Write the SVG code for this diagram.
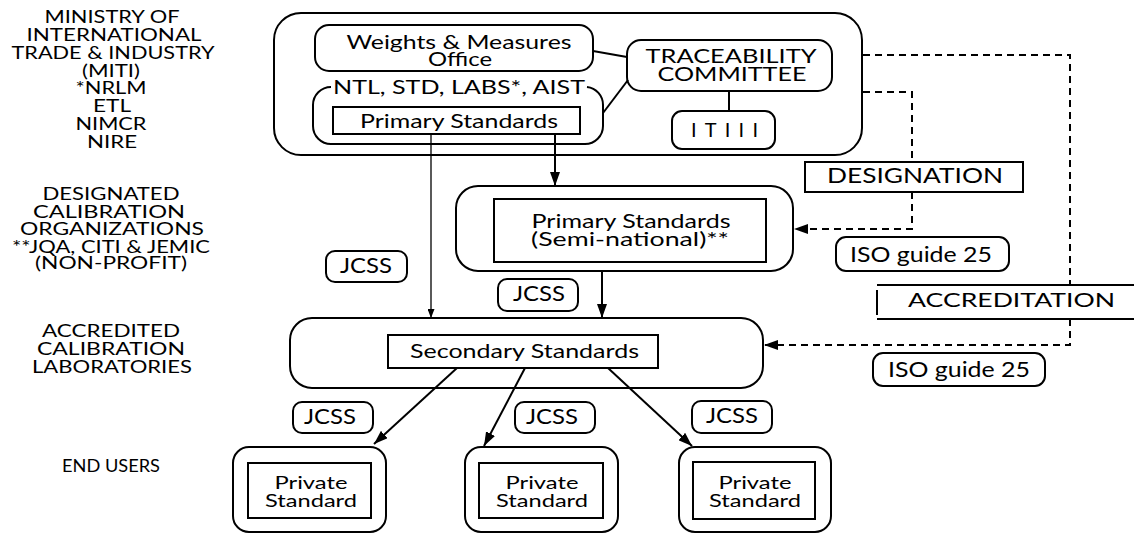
<svg xmlns="http://www.w3.org/2000/svg" width="1137" height="535" viewBox="0 0 1137 535">
<style>
.t{font-family:Lato,"Open Sans","DejaVu Sans",sans-serif;fill:#000;text-anchor:middle}
.lab{font-size:17.5px}
.b{fill:none;stroke:#000;stroke-width:2}
.w{fill:#fff;stroke:#000;stroke-width:2}
.ln{fill:none;stroke:#000;stroke-width:2}
.thin{fill:none;stroke:#000;stroke-width:1.3}
.dash{fill:none;stroke:#000;stroke-width:2;stroke-dasharray:7 5}
</style>
<defs>
<marker id="ah" markerUnits="userSpaceOnUse" markerWidth="14" markerHeight="10" refX="14" refY="5" orient="auto"><path d="M0,0 L14,5 L0,10 z" fill="#000"/></marker>
<marker id="ahs" markerUnits="userSpaceOnUse" markerWidth="9" markerHeight="7" refX="9" refY="3.5" orient="auto"><path d="M0,0 L9,3.5 L0,7 z" fill="#000"/></marker>
</defs>
<rect width="1137" height="535" fill="#fff"/>

<g id="row-labels" class="t lab" lengthAdjust="spacingAndGlyphs">
<text x="112" y="23" textLength="135" lengthAdjust="spacingAndGlyphs">MINISTRY OF</text>
<text x="114" y="41" textLength="175" lengthAdjust="spacingAndGlyphs">INTERNATIONAL</text>
<text x="113" y="59" textLength="203" lengthAdjust="spacingAndGlyphs">TRADE &amp; INDUSTRY</text>
<text x="111" y="76.5" textLength="58" lengthAdjust="spacingAndGlyphs">(MITI)</text>
<text x="111" y="94" textLength="71" lengthAdjust="spacingAndGlyphs">*NRLM</text>
<text x="112" y="112" textLength="38" lengthAdjust="spacingAndGlyphs">ETL</text>
<text x="111" y="130" textLength="71" lengthAdjust="spacingAndGlyphs">NIMCR</text>
<text x="112" y="147.5" textLength="50" lengthAdjust="spacingAndGlyphs">NIRE</text>
<text x="111" y="200" textLength="137" lengthAdjust="spacingAndGlyphs">DESIGNATED</text>
<text x="109" y="217.5" textLength="152" lengthAdjust="spacingAndGlyphs">CALIBRATION</text>
<text x="112" y="235" textLength="184" lengthAdjust="spacingAndGlyphs">ORGANIZATIONS</text>
<text x="111" y="252.5" textLength="198" lengthAdjust="spacingAndGlyphs">**JQA, CITI &amp; JEMIC</text>
<text x="111" y="269" textLength="152" lengthAdjust="spacingAndGlyphs">(NON-PROFIT)</text>
<text x="111" y="337" textLength="138" lengthAdjust="spacingAndGlyphs">ACCREDITED</text>
<text x="111" y="355" textLength="148" lengthAdjust="spacingAndGlyphs">CALIBRATION</text>
<text x="112" y="373" textLength="160" lengthAdjust="spacingAndGlyphs">LABORATORIES</text>
<text x="111" y="472" textLength="98" lengthAdjust="spacingAndGlyphs">END USERS</text>
</g>

<g id="miti">
<rect class="b" x="274" y="13" width="588" height="142" rx="27"/>
</g>

<g id="weights-measures">
<rect class="b" x="315" y="25" width="278" height="46" rx="14"/>
<text class="t" x="459" y="49" font-size="20" textLength="225" lengthAdjust="spacingAndGlyphs">Weights &amp; Measures</text>
<text class="t" x="460" y="65.5" font-size="20" textLength="64" lengthAdjust="spacingAndGlyphs">Office</text>
</g>

<g id="ntl-labs">
<path class="b" d="M331 87 A18 18 0 0 0 313 105 V126 A18 18 0 0 0 331 144 H585 A18 18 0 0 0 603 126 V105 A18 18 0 0 0 587 87"/>
<text class="t" x="459" y="94" font-size="19" textLength="252" lengthAdjust="spacingAndGlyphs">NTL, STD, LABS*, AIST</text>
</g>

<g id="primary-standards">
<rect class="b" x="333" y="107" width="247" height="27"/>
<text class="t" x="459" y="128" font-size="19" textLength="198" lengthAdjust="spacingAndGlyphs">Primary Standards</text>
</g>

<g id="traceability-committee">
<rect class="b" x="627" y="40" width="205" height="51" rx="14"/>
<text class="t" x="731" y="63" font-size="20" textLength="171" lengthAdjust="spacingAndGlyphs">TRACEABILITY</text>
<text class="t" x="732" y="81" font-size="20" textLength="149" lengthAdjust="spacingAndGlyphs">COMMITTEE</text>
</g>

<g id="it111">
<rect class="b" x="672" y="111" width="103" height="38" rx="10"/>
<text class="t" x="724.5" y="137" font-size="20" textLength="67" lengthAdjust="spacing">ITIII</text>
</g>

<g id="designation">
<rect class="w" x="805" y="162" width="218" height="30"/>
<text class="t" x="915" y="183" font-size="21" textLength="176" lengthAdjust="spacingAndGlyphs">DESIGNATION</text>
</g>

<g id="iso-guide-1">
<rect class="b" x="836" y="237" width="173" height="34" rx="10"/>
<text class="t" x="921" y="262" font-size="21" textLength="142" lengthAdjust="spacingAndGlyphs">ISO guide 25</text>
</g>

<g id="accreditation">
<rect x="877" y="285" width="260" height="34" fill="#fff"/>
<path class="ln" d="M1134 285 H877 M877 290 V315 M877 319 H1134"/>
<text class="t" x="1011.5" y="307" font-size="19.5" textLength="207" lengthAdjust="spacingAndGlyphs">ACCREDITATION</text>
</g>

<g id="iso-guide-2">
<rect class="b" x="873" y="353" width="172" height="33" rx="10"/>
<text class="t" x="959" y="377" font-size="21" textLength="142" lengthAdjust="spacingAndGlyphs">ISO guide 25</text>
</g>

<g id="semi-national">
<rect class="b" x="456" y="186" width="337" height="85" rx="22"/>
<rect class="b" x="494" y="199" width="272" height="63"/>
<text class="t" x="631" y="228" font-size="19" textLength="199" lengthAdjust="spacingAndGlyphs">Primary Standards</text>
<text class="t" x="630" y="246" font-size="19" textLength="198" lengthAdjust="spacingAndGlyphs">(Semi-national)**</text>
</g>

<g id="jcss-left">
<rect class="b" x="326" y="251" width="81" height="31" rx="9"/>
<text class="t" x="366" y="273" font-size="21" textLength="52" lengthAdjust="spacingAndGlyphs">JCSS</text>
</g>

<g id="jcss-mid">
<rect class="b" x="498" y="279" width="80" height="32" rx="9"/>
<text class="t" x="539" y="301" font-size="21" textLength="52" lengthAdjust="spacingAndGlyphs">JCSS</text>
</g>

<g id="secondary-standards">
<rect class="b" x="290" y="318" width="473" height="70" rx="22"/>
<rect class="b" x="388" y="335" width="270" height="33"/>
<text class="t" x="524.5" y="358" font-size="19" textLength="229" lengthAdjust="spacingAndGlyphs">Secondary Standards</text>
</g>

<g id="jcss-b1">
<rect class="b" x="293" y="402" width="80" height="31" rx="9"/>
<text class="t" x="330" y="424" font-size="21" textLength="52" lengthAdjust="spacingAndGlyphs">JCSS</text>
</g>
<g id="jcss-b2">
<rect class="b" x="515" y="402" width="80" height="31" rx="9"/>
<text class="t" x="552" y="424" font-size="21" textLength="52" lengthAdjust="spacingAndGlyphs">JCSS</text>
</g>
<g id="jcss-b3">
<rect class="b" x="692" y="401" width="80" height="32" rx="9"/>
<text class="t" x="732" y="423" font-size="21" textLength="52" lengthAdjust="spacingAndGlyphs">JCSS</text>
</g>

<g id="private-1">
<rect class="b" x="233" y="447" width="153" height="85" rx="16"/>
<rect class="b" x="248" y="463" width="123" height="55"/>
<text class="t" x="311" y="489" font-size="18" textLength="73" lengthAdjust="spacingAndGlyphs">Private</text>
<text class="t" x="311" y="507" font-size="18" textLength="92" lengthAdjust="spacingAndGlyphs">Standard</text>
</g>
<g id="private-2">
<rect class="b" x="465" y="447" width="153" height="85" rx="16"/>
<rect class="b" x="479" y="463" width="124" height="55"/>
<text class="t" x="542" y="489" font-size="18" textLength="73" lengthAdjust="spacingAndGlyphs">Private</text>
<text class="t" x="542" y="507" font-size="18" textLength="92" lengthAdjust="spacingAndGlyphs">Standard</text>
</g>
<g id="private-3">
<rect class="b" x="679" y="447" width="152" height="85" rx="16"/>
<rect class="b" x="693" y="462" width="122" height="57"/>
<text class="t" x="755" y="489" font-size="18" textLength="73" lengthAdjust="spacingAndGlyphs">Private</text>
<text class="t" x="755" y="507" font-size="18" textLength="92" lengthAdjust="spacingAndGlyphs">Standard</text>
</g>

<g id="connectors">
<line class="ln" x1="593" y1="51" x2="627" y2="57"/>
<line class="ln" x1="603" y1="113" x2="628" y2="80"/>
<line class="ln" x1="729" y1="91" x2="729" y2="111"/>
<line class="ln" x1="555" y1="134" x2="555" y2="186" marker-end="url(#ah)"/>
<line class="thin" x1="431" y1="134" x2="431" y2="318" marker-end="url(#ahs)"/>
<line class="ln" x1="602" y1="271" x2="602" y2="318" marker-end="url(#ah)"/>
<line class="ln" x1="457" y1="368" x2="374" y2="444" marker-end="url(#ah)"/>
<line class="ln" x1="525" y1="368" x2="484" y2="446" marker-end="url(#ah)"/>
<line class="ln" x1="608" y1="368" x2="692" y2="446" marker-end="url(#ah)"/>
<path class="dash" d="M863 92 H912 V162"/>
<path class="dash" d="M912 192 V229 H794" marker-end="url(#ah)"/>
<path class="dash" d="M863 55 H1070 V285"/>
<path class="dash" d="M1070 319 V345 H764" marker-end="url(#ah)"/>
</g>
</svg>
